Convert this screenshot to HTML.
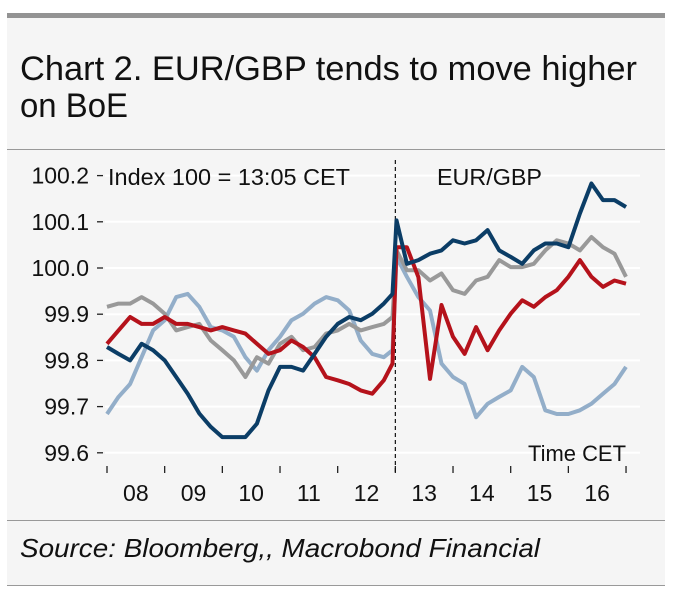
<!DOCTYPE html>
<html><head><meta charset="utf-8"><style>
body{margin:0;width:673px;height:595px;background:#fff;overflow:hidden;font-family:"Liberation Sans",sans-serif}
#panel{position:absolute;left:7px;top:13px;width:658px;height:573px;background:#f5f5f5}
</style></head><body>
<div id="panel"></div>
<svg width="673" height="595" style="position:absolute;left:0;top:0">
<rect x="7" y="13" width="658" height="5" fill="#939393"/>
<text x="20" y="80" font-size="34" fill="#111" textLength="617" lengthAdjust="spacingAndGlyphs">Chart 2. EUR/GBP tends to move higher</text>
<text x="20" y="117" font-size="34" fill="#111" textLength="108" lengthAdjust="spacingAndGlyphs">on BoE</text>
<line x1="7" y1="149.5" x2="665" y2="149.5" stroke="#999"/>
<line x1="7" y1="520.5" x2="665" y2="520.5" stroke="#999"/>
<line x1="7" y1="585.5" x2="665" y2="585.5" stroke="#999"/>
<text x="20" y="557" font-size="26" font-style="italic" fill="#111" textLength="520" lengthAdjust="spacingAndGlyphs">Source: Bloomberg,, Macrobond Financial</text>
<g id="grid"></g><g id="axes"></g><g id="series"></g>
<text x="108" y="185" font-size="23" fill="#111" textLength="242" lengthAdjust="spacingAndGlyphs">Index 100 = 13:05 CET</text>
<text x="437" y="185" font-size="23" fill="#111" textLength="105" lengthAdjust="spacingAndGlyphs">EUR/GBP</text>
<text x="528" y="461" font-size="22" fill="#111" textLength="98" lengthAdjust="spacingAndGlyphs">Time CET</text>
</svg>
<script>
const times=[7.5,7.7,7.9,8.1,8.3,8.5,8.7,8.9,9.1,9.3,9.5,9.7,9.9,10.1,10.3,10.5,10.7,10.9,11.1,11.3,11.5,11.7,11.9,12.1,12.3,12.45,12.52,12.7,12.9,13.1,13.3,13.5,13.7,13.9,14.1,14.3,14.5,14.7,14.9,15.1,15.3,15.5,15.7,15.9,16.1,16.3,16.5];
const darkBlue=[99.829,99.814,99.8,99.836,99.822,99.8,99.764,99.728,99.685,99.656,99.634,99.634,99.634,99.663,99.735,99.786,99.786,99.778,99.814,99.851,99.879,99.894,99.887,99.901,99.923,99.944,100.103,100.009,100.017,100.031,100.038,100.06,100.053,100.06,100.082,100.038,100.024,100.009,100.038,100.053,100.053,100.045,100.118,100.183,100.147,100.147,100.132];
const red=[99.836,99.865,99.894,99.879,99.879,99.894,99.879,99.879,99.872,99.865,99.872,99.865,99.858,99.836,99.814,99.822,99.843,99.829,99.807,99.764,99.757,99.749,99.735,99.728,99.757,99.793,100.045,100.045,99.98,99.76,99.92,99.851,99.814,99.872,99.822,99.865,99.901,99.93,99.916,99.937,99.952,99.981,100.017,99.981,99.959,99.973,99.966];
const gray=[99.916,99.923,99.923,99.937,99.923,99.901,99.865,99.872,99.879,99.843,99.822,99.8,99.764,99.807,99.793,99.836,99.851,99.822,99.829,99.858,99.865,99.879,99.865,99.872,99.879,99.894,100.038,99.995,99.995,99.973,99.988,99.952,99.944,99.973,99.981,100.017,100.002,100.002,100.009,100.038,100.06,100.053,100.038,100.067,100.045,100.031,99.981];
const lightBlue=[99.684,99.721,99.749,99.807,99.865,99.887,99.937,99.944,99.916,99.872,99.865,99.851,99.807,99.778,99.822,99.851,99.887,99.901,99.923,99.937,99.93,99.908,99.843,99.814,99.807,99.822,100.024,99.981,99.937,99.908,99.793,99.764,99.749,99.677,99.706,99.721,99.735,99.786,99.764,99.692,99.684,99.684,99.692,99.706,99.728,99.749,99.786];
const yTicks=[99.6,99.7,99.8,99.9,100.0,100.1,100.2];
const yTickLabels=["99.6","99.7","99.8","99.9","100.0","100.1","100.2"];
const xLabels=["08","09","10","11","12","13","14","15","16"];
const NS="http://www.w3.org/2000/svg";
const X=t=>107+(t-7.5)*57.67;
const Y=v=>268-(v-100)*462;
function mk(tag,attrs,parent){const e=document.createElementNS(NS,tag);for(const k in attrs)e.setAttribute(k,attrs[k]);document.getElementById(parent).appendChild(e);return e;}
yTicks.forEach((v,i)=>{
  const g=mk('line',{x1:105,x2:640,y1:Y(v),y2:Y(v),stroke:'#fff','stroke-width':2},'grid');
  
  
  const tk=mk('line',{x1:97,x2:103,y1:Y(v),y2:Y(v),stroke:'#222','stroke-width':1.3},'axes');
  
  
  const t=mk('text',{x:89,y:Y(v)+8,'font-size':23,'text-anchor':'end',fill:'#111'},'axes');
  t.textContent=yTickLabels[i];
  
  
});
for(let h=7.5;h<=16.51;h+=1){
  const tk=mk('line',{x1:X(h),x2:X(h),y1:466,y2:473,stroke:'#222','stroke-width':1.3},'axes');
  
  
}
xLabels.forEach((l,i)=>{
  const t=mk('text',{x:X(8+i),y:501,'font-size':23,'text-anchor':'middle',fill:'#111'},'axes');
  t.textContent=l;
  
  
});
const d=mk('line',{x1:X(12.5),x2:X(12.5),y1:160,y2:473,stroke:'#111','stroke-width':1.2,'stroke-dasharray':'4,3'},'axes');


[[lightBlue,'#93aec9','series-light-blue'],[gray,'#999999','series-gray'],[red,'#b5121b','series-red'],[darkBlue,'#0b3d66','series-dark-blue']].forEach(([vals,c,n])=>{
  const p=mk('path',{d:vals.map((v,i)=>(i?'L':'M')+X(times[i]).toFixed(1)+','+Y(v).toFixed(1)).join(''),fill:'none',stroke:c,'stroke-width':4,'stroke-linejoin':'round'},'series');
  
  
});
</script>
</body></html>
